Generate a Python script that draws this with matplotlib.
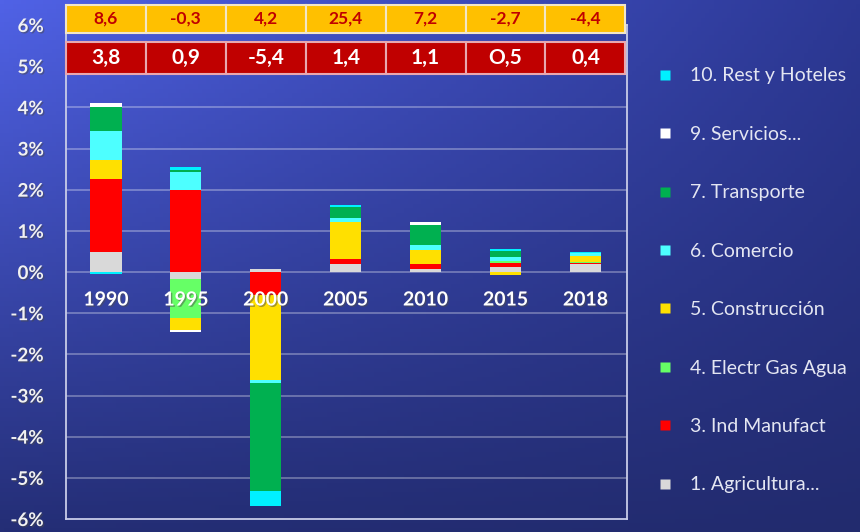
import matplotlib.pyplot as plt
import matplotlib.patheffects as pe
from matplotlib.patches import Rectangle
from matplotlib.lines import Line2D
import matplotlib.transforms as mtransforms
import numpy as np

years = ['1990', '1995', '2000', '2005', '2010', '2015', '2018']
sectors = ['1. Agricultura...', '3. Ind Manufact', '4. Electr Gas Agua', '5. Construcción',
           '6. Comercio', '7. Transporte', '9. Servicios...', '10. Rest y Hoteles']
colors = ['#D9D9D9', '#FF0000', '#66FF66', '#FFE000',
          '#4DFFFF', '#00B050', '#FFFFFF', '#00F0FF']

# contributions (percentage points) per sector
agricultura = [0.49, -0.16, 0.07, 0.19, 0.08, 0.12, 0.19]
ind_manufact = [1.78, 1.99, -0.55, 0.13, 0.12, 0.10, 0.03]
electr_gas = [0.0, -0.96, 0.0, 0.0, 0.0, 0.05, 0.02]
construccion = [0.46, -0.30, -2.07, 0.89, 0.34, -0.08, 0.14]
comercio = [0.70, 0.45, -0.07, 0.11, 0.12, 0.10, 0.09]
transporte = [0.57, 0.04, -2.64, 0.27, 0.49, 0.15, 0.0]
servicios = [0.10, -0.03, 0.0, 0.0, 0.06, 0.0, 0.0]
rest_hoteles = [-0.05, 0.06, -0.35, 0.03, 0.0, 0.05, 0.02]

row_top = ['8,6', '-0,3', '4,2', '25,4', '7,2', '-2,7', '-4,4']
row_total = ['3,8', '0,9', '-5,4', '1,4', '1,1', 'O,5', '0,4']

series = [agricultura, ind_manufact, electr_gas, construccion,
          comercio, transporte, servicios, rest_hoteles]

plt.rcParams['font.family'] = ['Lato', 'DejaVu Sans']

fig = plt.figure(figsize=(8.6, 5.32), dpi=100)

# gradient background
bg = fig.add_axes([0, 0, 1, 1], zorder=-10)
tl = np.array([80, 98, 230]) / 255
tr = np.array([44, 56, 148]) / 255
bl = np.array([36, 46, 118]) / 255
br = np.array([34, 43, 110]) / 255
u = np.linspace(0, 1, 200)[None, :, None]
v = np.linspace(0, 1, 120)[:, None, None]
img = (1 - v) * ((1 - u) * tl + u * tr) + v * ((1 - u) * bl + u * br)
bg.imshow(img, aspect='auto', extent=[0, 1, 0, 1])
bg.axis('off')

ax = fig.add_axes([66 / 860, 13 / 532, (627 - 66) / 860, (519 - 25) / 532])
ax.patch.set_alpha(0)

x = np.arange(len(years))
pos_base = np.zeros(len(years))
neg_base = np.zeros(len(years))
for vals, col in zip(series, colors):
    vals = np.array(vals)
    bottoms = np.where(vals >= 0, pos_base, neg_base)
    ax.bar(x, vals, 0.39, bottom=bottoms, color=col, edgecolor='none', zorder=3)
    pos_base += np.where(vals >= 0, vals, 0)
    neg_base += np.where(vals < 0, vals, 0)

ax.set_xlim(-0.5, 6.52)
ax.set_ylim(-6, 6)
ax.set_yticks(range(-6, 7))
ax.set_yticklabels([f'{t}%' for t in range(-6, 7)])
ax.set_xticks([])
ax.tick_params(axis='y', length=0, pad=16, labelsize=13.5, colors='#F2F2F2')
for lab in ax.get_yticklabels():
    lab.set_fontweight('bold')
    lab.set_path_effects([pe.withSimplePatchShadow(offset=(1, -1), alpha=0.5)])
for t in range(-5, 6):
    ax.axhline(t, color='white', alpha=0.35, lw=1.2, zorder=1)
for s in ['left', 'right', 'bottom', 'top']:
    ax.spines[s].set_color('#C8CCE8')
    ax.spines[s].set_linewidth(1.3)

for i, yr in enumerate(years):
    ax.text(i, -0.68, yr, ha='center', va='center', color='white', fontsize=14,
            fontweight='bold', zorder=5,
            path_effects=[pe.withSimplePatchShadow(offset=(1, -1), alpha=0.5)])

# table on top
trans = mtransforms.blended_transform_factory(ax.transData, fig.transFigure)
y1a, y1b = 1 - 33 / 532, 1 - 5 / 532
y2a, y2b = 1 - 74 / 532, 1 - 42 / 532
for i in range(len(years)):
    ax.add_patch(Rectangle((i - 0.5, y1a), 1, y1b - y1a, transform=trans, clip_on=False,
                           facecolor='#FFC000', edgecolor='#F2E6C8', lw=1.5, zorder=6))
    ax.text(i, (y1a + y1b) / 2, row_top[i], transform=trans, ha='center', va='center',
            color='#C00000', fontsize=12.5, fontweight='bold', zorder=7)
    ax.add_patch(Rectangle((i - 0.5, y2a), 1, y2b - y2a, transform=trans, clip_on=False,
                           facecolor='#C00000', edgecolor='#E8A8B0', lw=1.5, zorder=6))
    ax.text(i, (y2a + y2b) / 2, row_total[i], transform=trans, ha='center', va='center',
            color='white', fontsize=15, fontweight='bold', zorder=7)

handles = [Line2D([], [], marker='s', linestyle='none', markersize=7.5,
                  markerfacecolor=c, markeredgecolor='none') for c in colors]
leg = fig.legend(handles[::-1], sectors[::-1], loc='upper left',
                 bbox_to_anchor=(638 / 860, 1 - 50 / 532), frameon=False,
                 fontsize=14, labelspacing=2.13, handletextpad=0.8, handlelength=1.0)
for t in leg.get_texts():
    t.set_color('#E4E6F2')

plt.savefig('out.png', dpi=100)
